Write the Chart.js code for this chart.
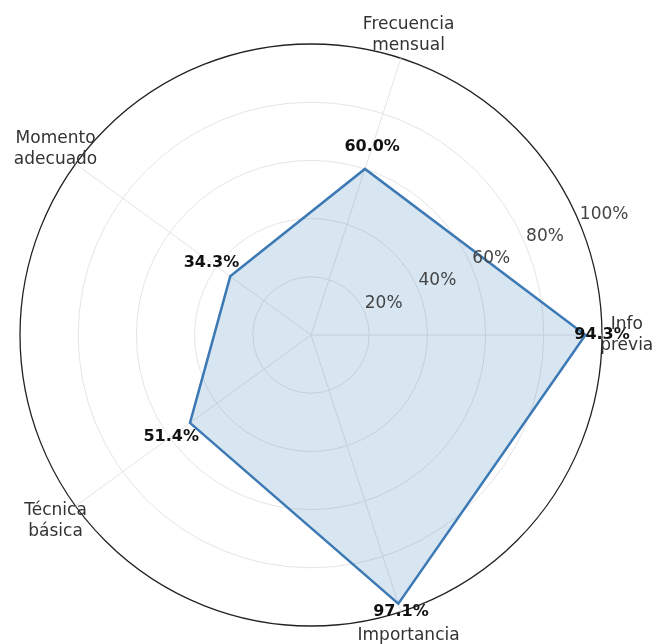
<!DOCTYPE html>
<html>
<head>
<meta charset="utf-8">
<script src="https://cdn.jsdelivr.net/npm/chart.js@4"></script>
<style>
  body { margin: 0; background: #fff; }
  #wrap { width: 656px; height: 644px; }
</style>
</head>
<body>
<div id="wrap"><canvas id="radarChart" width="656" height="644"></canvas></div>
<script>
// categories in clockwise order, starting at the right (Info previa)
const categories = [['Info', 'previa'], ['Importancia'], ['Técnica', 'básica'], ['Momento', 'adecuado'], ['Frecuencia', 'mensual']];
const percentages = [94.3, 97.1, 51.4, 34.3, 60.0];
const tickValues = [20, 40, 60, 80, 100];

const labelPlugin = {
    id: 'radarLabels',
    afterDatasetsDraw(chart) {
        const ctx = chart.ctx;
        const scale = chart.scales.r;
        ctx.save();

        // radial tick labels along 22.5 degrees
        const a = 22.5 * Math.PI / 180;
        ctx.font = '17px "DejaVu Sans"';
        ctx.fillStyle = '#444';
        ctx.textAlign = 'left';
        ctx.textBaseline = 'bottom';
        tickValues.forEach(v => {
            const d = scale.getDistanceFromCenterForValue(v);
            ctx.fillText(v + '%', scale.xCenter + d * Math.cos(a), scale.yCenter - d * Math.sin(a) - 1);
        });

        // value labels
        ctx.font = 'bold 16px "DejaVu Sans"';
        ctx.fillStyle = '#111';
        ctx.textAlign = 'center';
        ctx.textBaseline = 'middle';
        percentages.forEach((v, i) => {
            const p = scale.getPointPositionForValue(i, Math.min(v + 8, 100));
            ctx.fillText(v.toFixed(1) + '%', p.x, p.y);
        });

        // category labels
        ctx.font = '17px "DejaVu Sans"';
        ctx.fillStyle = '#333';
        categories.forEach((lines, i) => {
            const p = scale.getPointPositionForValue(i, 108.5);
            const lh = 21;
            lines.forEach((t, j) => {
                ctx.fillText(t, p.x, p.y + (j - (lines.length - 1) / 2) * lh);
            });
        });
        ctx.restore();
    }
};

new Chart(document.getElementById('radarChart').getContext('2d'), {
    type: 'radar',
    data: {
        labels: categories.map(c => c.join(' ')),
        datasets: [{
            data: percentages,
            borderColor: '#3d7ab5',
            backgroundColor: 'rgba(31, 119, 180, 0.18)',
            borderWidth: 2.5,
            pointRadius: 0,
            fill: true
        }]
    },
    options: {
        responsive: false,
        animation: false,
        layout: { padding: { left: 20, top: 44, right: 54, bottom: 18 } },
        plugins: { legend: { display: false }, tooltip: { enabled: false } },
        scales: {
            r: {
                min: 0,
                max: 100,
                startAngle: 90,
                ticks: { stepSize: 20, display: false },
                pointLabels: { display: false },
                grid: {
                    circular: true,
                    color: ctx => ctx.tick && ctx.tick.value === 100 ? '#222' : '#e4e4e4',
                    lineWidth: ctx => ctx.tick && ctx.tick.value === 100 ? 1.3 : 1
                },
                angleLines: { color: '#e4e4e4' }
            }
        }
    },
    plugins: [labelPlugin]
});
</script>
</body>
</html>
